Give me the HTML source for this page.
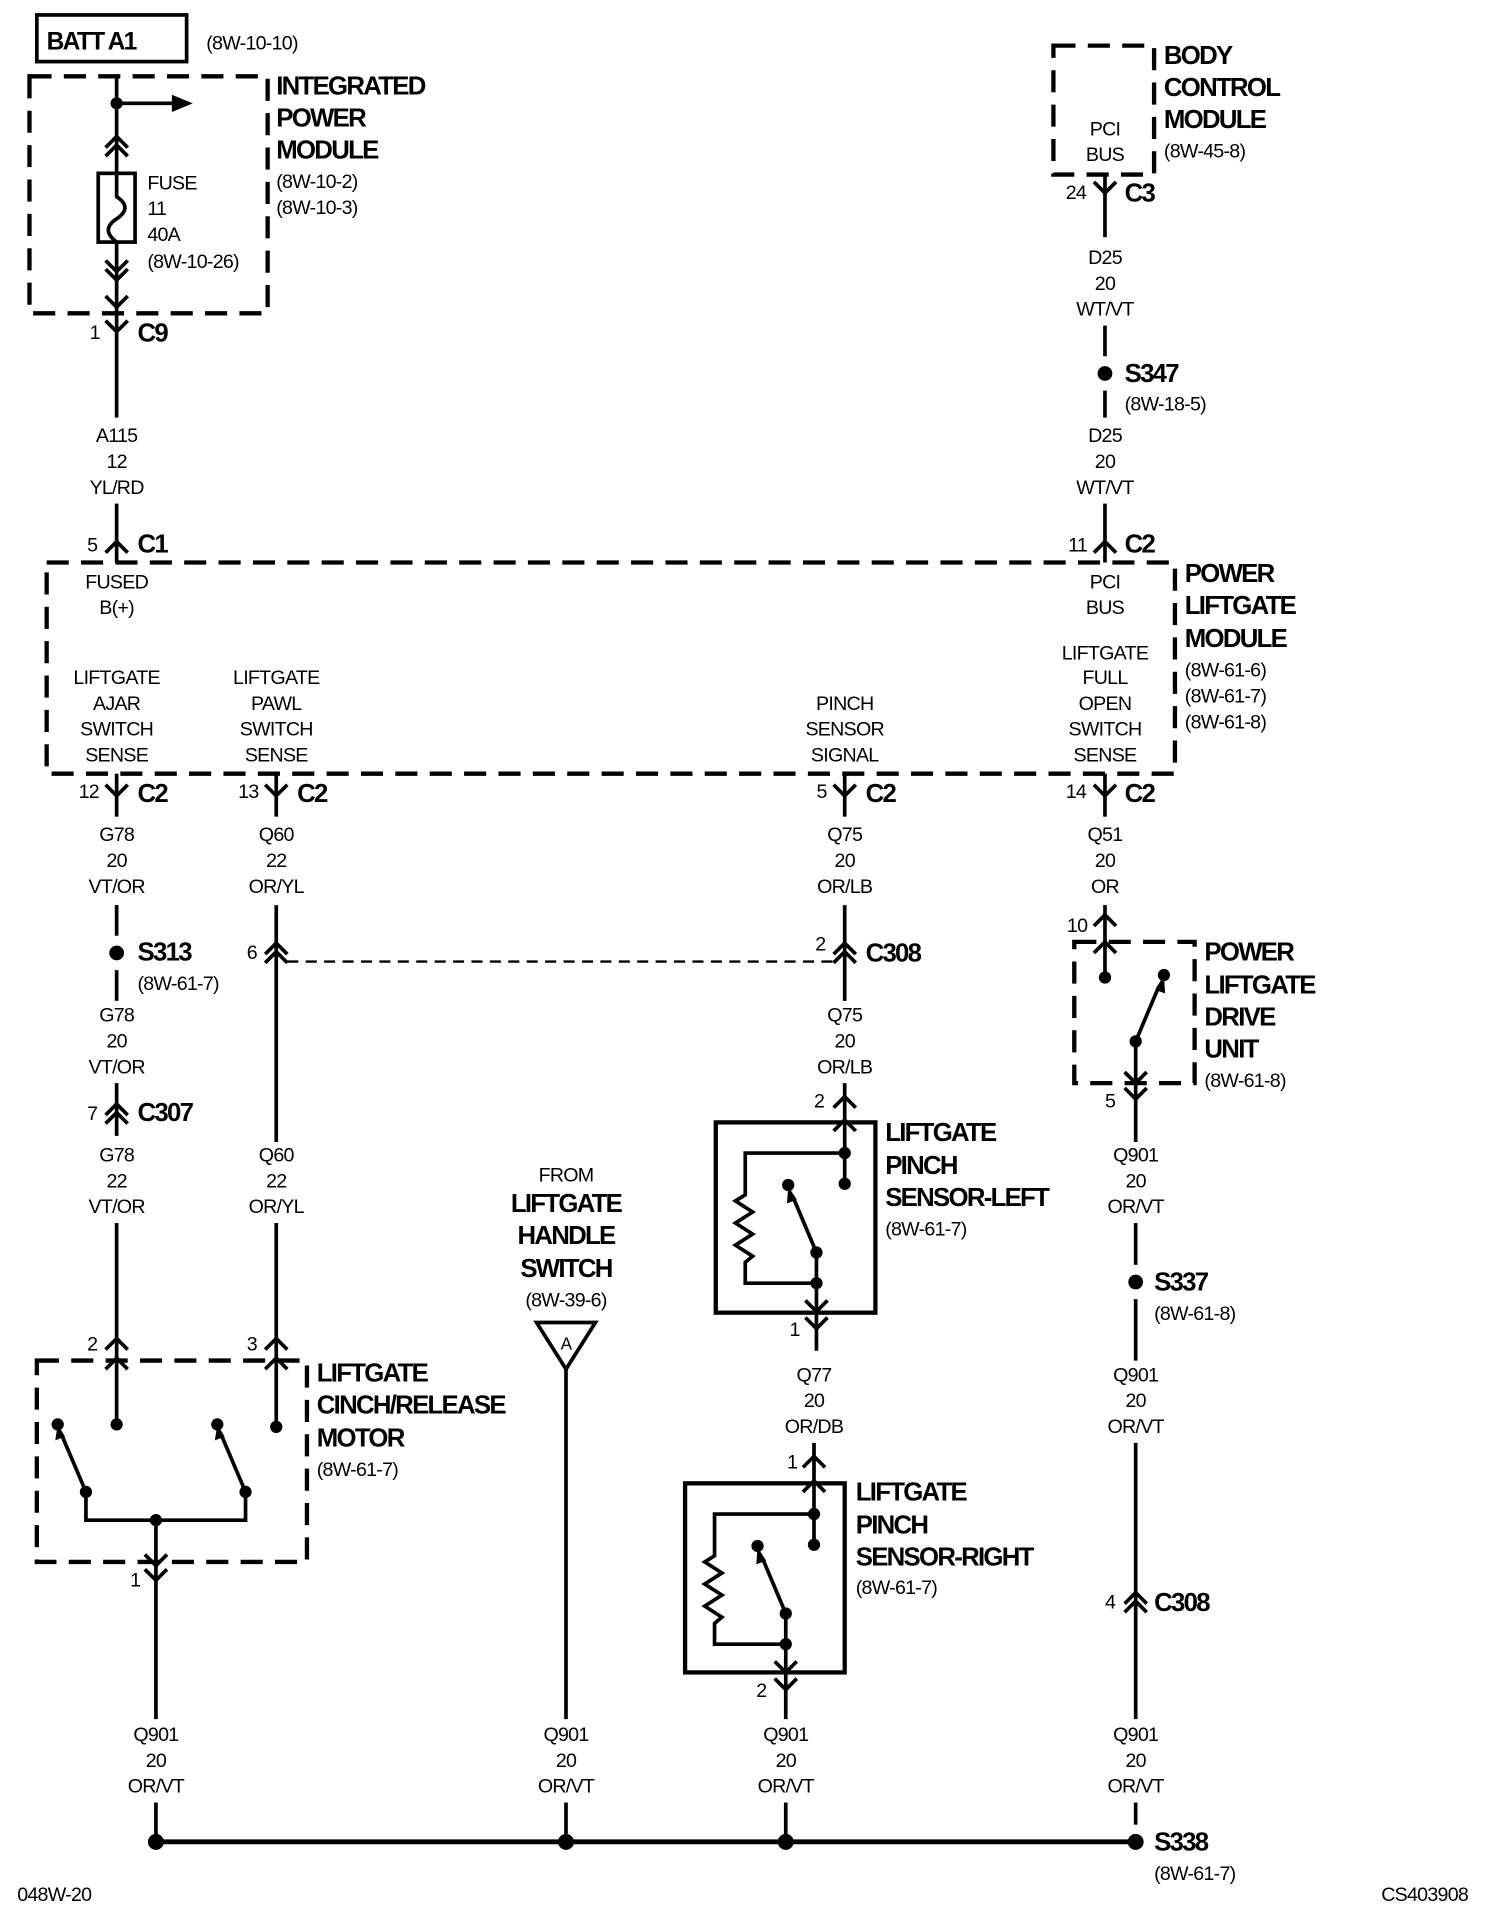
<!DOCTYPE html>
<html><head><meta charset="utf-8"><style>
html,body{margin:0;padding:0;background:#fff;}
svg{display:block;}
text{font-family:"Liberation Sans",Arial,sans-serif;fill:#000;}
.s{font-size:16px;letter-spacing:-0.6px;}
.b{font-size:21px;font-weight:bold;letter-spacing:-1.4px;}
.c{text-anchor:middle;}
.w{stroke:#000;stroke-width:3;fill:none;}
.d{stroke:#000;stroke-width:3.5;fill:none;stroke-dasharray:18 10;}
</style></head><body>
<svg width="1504" height="1928" viewBox="0 0 1225 1570" xmlns="http://www.w3.org/2000/svg">
<defs>
<path id="Y" d="M-9,-9 L0,0 L9,-9" stroke="#000" stroke-width="3" fill="none"/>
<path id="U" d="M-9,9 L0,0 L9,9" stroke="#000" stroke-width="3" fill="none"/>
<g id="UU"><path d="M-9,9 L0,0 L9,9 M-9,16 L0,7 L9,16" stroke="#000" stroke-width="3" fill="none"/></g>
<g id="DD"><path d="M-9,-9 L0,0 L9,-9 M-9,-16 L0,-7 L9,-16" stroke="#000" stroke-width="3" fill="none"/></g>
</defs>

<rect x="30" y="12" width="122" height="38" class="w"/>
<text x="38" y="40" class="b" style="font-size:20px">BATT A1</text>
<text x="168" y="40" class="s">(8W-10-10)</text>

<rect x="24" y="62" width="194" height="193" class="d"/>
<text x="225" y="77" class="b">INTEGRATED</text>
<text x="225" y="103" class="b">POWER</text>
<text x="225" y="129" class="b">MODULE</text>
<text x="225" y="153" class="s">(8W-10-2)</text>
<text x="225" y="174" class="s">(8W-10-3)</text>
<line x1="95" y1="62" x2="95" y2="141" class="w"/>
<circle cx="95" cy="84" r="5"/>
<line x1="95" y1="84" x2="140" y2="84" class="w"/>
<polygon points="140,77 157,84 140,91"/>
<use href="#UU" x="95" y="111"/>
<rect x="80" y="141" width="30" height="56" class="w"/>
<path d="M95,141 L95,160 C104,166 104,172 95,178 C86,184 86,190 95,197" class="w"/>
<line x1="95" y1="197" x2="95" y2="340" class="w"/>
<use href="#DD" x="95" y="228"/>
<use href="#Y" x="95" y="250"/>
<text x="120" y="154" class="s">FUSE</text>
<text x="120" y="175" class="s">11</text>
<text x="120" y="196" class="s">40A</text>
<text x="120" y="218" class="s">(8W-10-26)</text>
<use href="#Y" x="95" y="270"/>
<text x="73" y="276" class="s">1</text>
<text x="112" y="278" class="b">C9</text>
<text x="95" y="360" class="s c">A115</text>
<text x="95" y="381" class="s c">12</text>
<text x="95" y="402" class="s c">YL/RD</text>
<line x1="95" y1="410" x2="95" y2="458" class="w"/>
<use href="#U" x="95" y="441"/>
<text x="71" y="449" class="s">5</text>
<text x="112" y="450" class="b">C1</text>

<rect x="858" y="37" width="82" height="105" class="d"/>
<text x="948" y="52" class="b">BODY</text>
<text x="948" y="78" class="b">CONTROL</text>
<text x="948" y="104" class="b">MODULE</text>
<text x="948" y="128" class="s">(8W-45-8)</text>
<text x="900" y="110" class="s c">PCI</text>
<text x="900" y="131" class="s c">BUS</text>
<line x1="900" y1="142" x2="900" y2="193" class="w"/>
<use href="#Y" x="900" y="157"/>
<text x="868" y="162" class="s">24</text>
<text x="916" y="164" class="b">C3</text>
<text x="900" y="215" class="s c">D25</text>
<text x="900" y="236" class="s c">20</text>
<text x="900" y="257" class="s c">WT/VT</text>
<line x1="900" y1="265" x2="900" y2="290" class="w"/>
<circle cx="900" cy="304" r="6"/>
<text x="916" y="311" class="b">S347</text>
<line x1="900" y1="318" x2="900" y2="340" class="w"/>
<text x="916" y="334" class="s">(8W-18-5)</text>
<text x="900" y="360" class="s c">D25</text>
<text x="900" y="381" class="s c">20</text>
<text x="900" y="402" class="s c">WT/VT</text>
<line x1="900" y1="410" x2="900" y2="458" class="w"/>
<use href="#U" x="900" y="441"/>
<text x="870" y="449" class="s">11</text>
<text x="916" y="450" class="b">C2</text>

<rect x="38" y="458" width="919" height="172" class="d"/>
<text x="95" y="479" class="s c">FUSED</text>
<text x="95" y="500" class="s c">B(+)</text>
<text x="900" y="479" class="s c">PCI</text>
<text x="900" y="500" class="s c">BUS</text>
<text x="965" y="474" class="b">POWER</text>
<text x="965" y="500" class="b">LIFTGATE</text>
<text x="965" y="527" class="b">MODULE</text>
<text x="965" y="551" class="s">(8W-61-6)</text>
<text x="965" y="572" class="s">(8W-61-7)</text>
<text x="965" y="593" class="s">(8W-61-8)</text>
<text x="95" y="557" class="s c">LIFTGATE</text>
<text x="95" y="578" class="s c">AJAR</text>
<text x="95" y="599" class="s c">SWITCH</text>
<text x="95" y="620" class="s c">SENSE</text>
<text x="225" y="557" class="s c">LIFTGATE</text>
<text x="225" y="578" class="s c">PAWL</text>
<text x="225" y="599" class="s c">SWITCH</text>
<text x="225" y="620" class="s c">SENSE</text>
<text x="688" y="578" class="s c">PINCH</text>
<text x="688" y="599" class="s c">SENSOR</text>
<text x="688" y="620" class="s c">SIGNAL</text>
<text x="900" y="537" class="s c">LIFTGATE</text>
<text x="900" y="557" class="s c">FULL</text>
<text x="900" y="578" class="s c">OPEN</text>
<text x="900" y="599" class="s c">SWITCH</text>
<text x="900" y="620" class="s c">SENSE</text>

<g>
<line x1="95" y1="630" x2="95" y2="665" class="w"/><use href="#Y" x="95" y="648"/>
<text x="64" y="650" class="s">12</text><text x="112" y="653" class="b">C2</text>
<line x1="225" y1="630" x2="225" y2="665" class="w"/><use href="#Y" x="225" y="648"/>
<text x="194" y="650" class="s">13</text><text x="242" y="653" class="b">C2</text>
<line x1="688" y1="630" x2="688" y2="665" class="w"/><use href="#Y" x="688" y="648"/>
<text x="665" y="650" class="s">5</text><text x="705" y="653" class="b">C2</text>
<line x1="900" y1="630" x2="900" y2="665" class="w"/><use href="#Y" x="900" y="648"/>
<text x="868" y="650" class="s">14</text><text x="916" y="653" class="b">C2</text>
</g>

<text x="95" y="685" class="s c">G78</text><text x="95" y="706" class="s c">20</text><text x="95" y="727" class="s c">VT/OR</text>
<line x1="95" y1="737" x2="95" y2="762" class="w"/>
<circle cx="95" cy="776" r="6"/>
<text x="112" y="782" class="b">S313</text>
<line x1="95" y1="790" x2="95" y2="815" class="w"/>
<text x="112" y="806" class="s">(8W-61-7)</text>
<text x="95" y="832" class="s c">G78</text><text x="95" y="853" class="s c">20</text><text x="95" y="874" class="s c">VT/OR</text>
<line x1="95" y1="882" x2="95" y2="925" class="w"/>
<use href="#UU" x="95" y="899"/>
<text x="71" y="912" class="s">7</text>
<text x="112" y="913" class="b">C307</text>
<text x="95" y="946" class="s c">G78</text><text x="95" y="967" class="s c">22</text><text x="95" y="988" class="s c">VT/OR</text>
<line x1="95" y1="996" x2="95" y2="1160" class="w"/>
<use href="#U" x="95" y="1090"/>
<use href="#U" x="95" y="1106"/>
<text x="71" y="1100" class="s">2</text>

<text x="225" y="685" class="s c">Q60</text><text x="225" y="706" class="s c">22</text><text x="225" y="727" class="s c">OR/YL</text>
<line x1="225" y1="737" x2="225" y2="930" class="w"/>
<use href="#UU" x="225" y="768"/>
<text x="201" y="781" class="s">6</text>
<line x1="234" y1="783" x2="680" y2="783" stroke="#000" stroke-width="2" stroke-dasharray="9 6"/>
<text x="225" y="946" class="s c">Q60</text><text x="225" y="967" class="s c">22</text><text x="225" y="988" class="s c">OR/YL</text>
<line x1="225" y1="996" x2="225" y2="1162" class="w"/>
<use href="#U" x="225" y="1090"/>
<use href="#U" x="225" y="1106"/>
<text x="201" y="1100" class="s">3</text>

<rect x="30" y="1108" width="220" height="164" class="d"/>
<text x="258" y="1125" class="b">LIFTGATE</text>
<text x="258" y="1151" class="b">CINCH/RELEASE</text>
<text x="258" y="1178" class="b">MOTOR</text>
<text x="258" y="1202" class="s">(8W-61-7)</text>
<circle cx="95" cy="1160" r="5"/><circle cx="225" cy="1162" r="5"/>
<circle cx="47" cy="1160" r="5"/><circle cx="70" cy="1215" r="5"/>
<circle cx="177" cy="1160" r="5"/><circle cx="200" cy="1215" r="5"/>
<line x1="70" y1="1215" x2="50" y2="1168" class="w"/>
<polygon points="47,1160 45,1173 53,1170"/>
<line x1="200" y1="1215" x2="180" y2="1168" class="w"/>
<polygon points="177,1160 175,1173 183,1170"/>
<path d="M70,1215 L70,1238 L200,1238 L200,1215" class="w"/>
<circle cx="127" cy="1238" r="5"/>
<line x1="127" y1="1238" x2="127" y2="1400" class="w"/>
<use href="#Y" x="127" y="1275"/>
<use href="#Y" x="127" y="1287"/>
<text x="106" y="1292" class="s">1</text>
<text x="127" y="1418" class="s c">Q901</text><text x="127" y="1439" class="s c">20</text><text x="127" y="1460" class="s c">OR/VT</text>
<line x1="127" y1="1468" x2="127" y2="1500" class="w"/>

<text x="461" y="962" class="s c">FROM</text>
<text x="461" y="987" class="b c">LIFTGATE</text>
<text x="461" y="1013" class="b c">HANDLE</text>
<text x="461" y="1040" class="b c">SWITCH</text>
<text x="461" y="1064" class="s c">(8W-39-6)</text>
<polygon points="437,1077 485,1077 461,1115" class="w" stroke-linejoin="miter"/>
<text x="461" y="1099" class="s c" style="font-size:14px">A</text>
<line x1="461" y1="1115" x2="461" y2="1400" class="w"/>
<text x="461" y="1418" class="s c">Q901</text><text x="461" y="1439" class="s c">20</text><text x="461" y="1460" class="s c">OR/VT</text>
<line x1="461" y1="1468" x2="461" y2="1500" class="w"/>

<text x="688" y="685" class="s c">Q75</text><text x="688" y="706" class="s c">20</text><text x="688" y="727" class="s c">OR/LB</text>
<line x1="688" y1="737" x2="688" y2="815" class="w"/>
<use href="#UU" x="688" y="768"/>
<text x="664" y="774" class="s">2</text>
<text x="705" y="783" class="b">C308</text>
<text x="688" y="832" class="s c">Q75</text><text x="688" y="853" class="s c">20</text><text x="688" y="874" class="s c">OR/LB</text>
<line x1="688" y1="882" x2="688" y2="964" class="w"/>
<use href="#U" x="688" y="893"/>
<use href="#U" x="688" y="912"/>
<text x="663" y="902" class="s">2</text>
<rect x="583" y="914" width="130" height="155" fill="none" stroke="#000" stroke-width="3.5"/>
<text x="721" y="929" class="b">LIFTGATE</text>
<text x="721" y="956" class="b">PINCH</text>
<text x="721" y="982" class="b">SENSOR-LEFT</text>
<text x="721" y="1006" class="s">(8W-61-7)</text>
<path d="M688,939 L607,939 L607,973 L599,978 L613,987 L599,996 L613,1005 L599,1014 L613,1023 L607,1028 L607,1045 L665,1045" class="w"/>
<circle cx="688" cy="939" r="5"/><circle cx="688" cy="964" r="5"/>
<circle cx="642" cy="965" r="5"/><circle cx="665" cy="1020" r="5"/><circle cx="665" cy="1045" r="5"/>
<line x1="665" y1="1020" x2="646" y2="975" class="w"/>
<polygon points="642,966 641,980 649,977"/>
<line x1="665" y1="1020" x2="665" y2="1100" class="w"/>
<use href="#Y" x="665" y="1068"/>
<use href="#Y" x="665" y="1082"/>
<text x="643" y="1088" class="s">1</text>
<text x="663" y="1125" class="s c">Q77</text><text x="663" y="1146" class="s c">20</text><text x="663" y="1167" class="s c">OR/DB</text>
<line x1="663" y1="1175" x2="663" y2="1258" class="w"/>
<use href="#U" x="663" y="1186"/>
<use href="#U" x="663" y="1206"/>
<text x="641" y="1196" class="s">1</text>
<rect x="558" y="1208" width="130" height="154" fill="none" stroke="#000" stroke-width="3.5"/>
<text x="697" y="1222" class="b">LIFTGATE</text>
<text x="697" y="1249" class="b">PINCH</text>
<text x="697" y="1275" class="b">SENSOR-RIGHT</text>
<text x="697" y="1298" class="s">(8W-61-7)</text>
<path d="M663,1233 L582,1233 L582,1267 L574,1272 L588,1281 L574,1290 L588,1299 L574,1308 L588,1317 L582,1322 L582,1339 L640,1339" class="w"/>
<circle cx="663" cy="1233" r="5"/><circle cx="663" cy="1258" r="5"/>
<circle cx="617" cy="1259" r="5"/><circle cx="640" cy="1314" r="5"/><circle cx="640" cy="1339" r="5"/>
<line x1="640" y1="1314" x2="621" y2="1269" class="w"/>
<polygon points="617,1260 616,1274 624,1271"/>
<line x1="640" y1="1314" x2="640" y2="1400" class="w"/>
<use href="#Y" x="640" y="1362"/>
<use href="#Y" x="640" y="1376"/>
<text x="616" y="1382" class="s">2</text>
<text x="640" y="1418" class="s c">Q901</text><text x="640" y="1439" class="s c">20</text><text x="640" y="1460" class="s c">OR/VT</text>
<line x1="640" y1="1468" x2="640" y2="1500" class="w"/>

<text x="900" y="685" class="s c">Q51</text><text x="900" y="706" class="s c">20</text><text x="900" y="727" class="s c">OR</text>
<line x1="900" y1="737" x2="900" y2="796" class="w"/>
<use href="#U" x="900" y="745"/>
<use href="#U" x="900" y="767"/>
<text x="869" y="759" class="s">10</text>
<rect x="875" y="767" width="98" height="115" class="d"/>
<text x="981" y="782" class="b">POWER</text>
<text x="981" y="809" class="b">LIFTGATE</text>
<text x="981" y="835" class="b">DRIVE</text>
<text x="981" y="861" class="b">UNIT</text>
<text x="981" y="885" class="s">(8W-61-8)</text>
<circle cx="900" cy="796" r="5"/><circle cx="948" cy="794" r="5"/><circle cx="925" cy="848" r="5"/>
<line x1="925" y1="848" x2="944" y2="803" class="w"/>
<polygon points="948,794 941,806 949,809"/>
<line x1="925" y1="848" x2="925" y2="930" class="w"/>
<use href="#Y" x="925" y="882"/>
<use href="#Y" x="925" y="895"/>
<text x="900" y="902" class="s">5</text>
<text x="925" y="946" class="s c">Q901</text><text x="925" y="967" class="s c">20</text><text x="925" y="988" class="s c">OR/VT</text>
<line x1="925" y1="996" x2="925" y2="1030" class="w"/>
<circle cx="925" cy="1044" r="6"/>
<text x="940" y="1051" class="b">S337</text>
<text x="940" y="1075" class="s">(8W-61-8)</text>
<line x1="925" y1="1058" x2="925" y2="1108" class="w"/>
<text x="925" y="1125" class="s c">Q901</text><text x="925" y="1146" class="s c">20</text><text x="925" y="1167" class="s c">OR/VT</text>
<line x1="925" y1="1175" x2="925" y2="1400" class="w"/>
<use href="#UU" x="925" y="1297"/>
<text x="900" y="1310" class="s">4</text>
<text x="940" y="1312" class="b">C308</text>
<text x="925" y="1418" class="s c">Q901</text><text x="925" y="1439" class="s c">20</text><text x="925" y="1460" class="s c">OR/VT</text>
<line x1="925" y1="1468" x2="925" y2="1486" class="w"/>

<line x1="127" y1="1500" x2="925" y2="1500" stroke="#000" stroke-width="4"/>
<circle cx="127" cy="1500" r="6.5"/><circle cx="461" cy="1500" r="6.5"/>
<circle cx="640" cy="1500" r="6.5"/><circle cx="925" cy="1500" r="6.5"/>
<text x="940" y="1507" class="b">S338</text>
<text x="940" y="1531" class="s">(8W-61-7)</text>

<text x="14" y="1548" class="s">048W-20</text>
<text x="1125" y="1548" class="s">CS403908</text>
</svg>
</body></html>
